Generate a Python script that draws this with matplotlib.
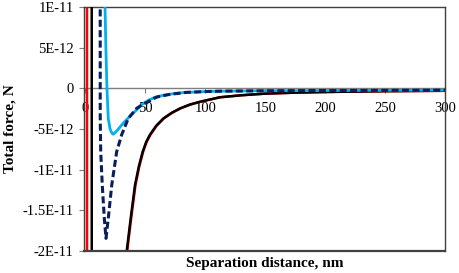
import matplotlib
matplotlib.use("Agg")
import matplotlib.pyplot as plt

# ---- data (force in N, distance in nm) ----
red_x = [1.2, 1.3, 20, 30, 34.8, 38.1, 41.7, 44.9, 48.1, 51.0, 54.2, 59.4, 65.4, 72.4, 79.4, 87.4, 96.0, 112.4, 130.4, 150.4, 175.4, 200.4, 250.4, 300]
red_y = [1e-10, -1e-10, -8e-11, -3e-11, -20e-12, -16e-12, -11.9e-12, -9.6e-12, -7.8e-12, -6.6e-12, -5.7e-12, -4.6e-12, -3.7e-12, -3.0e-12,
         -2.46e-12, -2.0e-12, -1.65e-12, -1.1e-12, -0.85e-12, -0.65e-12, -0.53e-12, -0.45e-12, -0.35e-12, -0.3e-12]

black_x = [5.1, 5.3, 20, 30, 34.4, 37.7, 41.3, 44.5, 47.7, 50.6, 53.8, 59, 65, 72, 79, 87, 95.6, 112, 130, 150, 175, 200, 250, 300]
black_y = [1e-10, -1e-10, -8e-11, -3e-11, -20e-12, -16e-12, -11.9e-12, -9.6e-12, -7.8e-12, -6.6e-12, -5.7e-12, -4.6e-12, -3.7e-12, -3.0e-12,
           -2.46e-12, -2.0e-12, -1.65e-12, -1.1e-12, -0.85e-12, -0.65e-12, -0.53e-12, -0.45e-12, -0.35e-12, -0.3e-12]

navy_x = [12.2, 12.3, 12.7, 14.0, 15.7, 17.1, 19.0, 21.9, 26, 30.2, 35.7, 42.7, 48, 52.4, 56, 60, 70, 84, 100, 112, 150, 200, 250, 300]
navy_y = [30e-12, -3.7e-12, -7.8e-12, -11.9e-12, -16e-12, -18.45e-12, -16e-12, -11.9e-12, -7.8e-12, -5.7e-12, -3.7e-12,
          -2.46e-12, -1.95e-12, -1.65e-12, -1.3e-12, -1.05e-12, -0.75e-12, -0.5e-12, -0.4e-12, -0.35e-12, -0.3e-12,
          -0.27e-12, -0.25e-12, -0.23e-12]

blue_x = [15.8, 16.3, 17.0, 17.9, 19.0, 20.5, 22.0, 23.2, 25, 27.5, 30.2, 34, 38.6, 43, 47, 52, 58, 65, 75, 84, 100, 112, 150, 200, 250, 300]
blue_y = [25e-12, 10e-12, 5e-12, 0.0, -3.7e-12, -5.0e-12, -5.5e-12, -5.65e-12, -5.4e-12, -5.0e-12, -4.5e-12, -3.9e-12,
          -3.2e-12, -2.6e-12, -2.0e-12, -1.5e-12, -1.1e-12, -0.85e-12, -0.62e-12, -0.5e-12, -0.4e-12, -0.35e-12,
          -0.3e-12, -0.27e-12, -0.25e-12, -0.23e-12]

x_ticks = [0, 50, 100, 150, 200, 250, 300]
y_ticks = [1e-11, 5e-12, 0, -5e-12, -1e-11, -1.5e-11, -2e-11]
y_tick_labels = ["1E-11", "5E-12", "0", "-5E-12", "-1E-11", "-1.5E-11", "-2E-11"]

plt.rcParams['font.family'] = ['Liberation Serif', 'DejaVu Serif']

fig = plt.figure(figsize=(4.59, 2.73), dpi=100)
ax = fig.add_axes([84 / 459, 1 - 251 / 273, (445 - 84) / 459, (251 - 7) / 273])

ax.plot(red_x, red_y, color='#FF0000', lw=1.8, solid_joinstyle='round', zorder=2)
ax.plot(black_x, black_y, color='#000000', lw=1.8, solid_joinstyle='round', zorder=3)
ax.plot(blue_x, blue_y, color='#00B0F0', lw=2.0, solid_joinstyle='round', zorder=4)
ax.plot(navy_x, navy_y, color='#0A1E5A', lw=2.2, dashes=(2.3, 1.1), zorder=5)

ax.set_xlim(-1.25, 300)
ax.set_ylim(-2e-11, 1e-11)

frame_c = '#404040'
for s in ['left', 'right', 'top']:
    ax.spines[s].set_color(frame_c)
    ax.spines[s].set_linewidth(1.0)
ax.spines['bottom'].set_position(('data', 0))
ax.spines['bottom'].set_color('#7f7f7f')
ax.spines['bottom'].set_linewidth(1.0)
ax.spines['bottom'].set_zorder(1)
ax.plot([0, 1], [0, 0], transform=ax.transAxes, color=frame_c, lw=1.6, clip_on=False, zorder=6)

ax.set_xticks(x_ticks)
ax.set_xticklabels([str(v) for v in x_ticks])
ax.set_yticks(y_ticks)
ax.set_yticklabels(y_tick_labels)
ax.tick_params(axis='both', labelsize=10.5, length=3.5, width=0.8, color='#7f7f7f', direction='out')
ax.tick_params(axis='x', pad=6)
ax.tick_params(axis='y', pad=4)

fig.text(264.5 / 459, 1 - 263 / 273, 'Separation distance, nm', fontsize=11, fontweight='bold',
         ha='center', va='center')
fig.text(10 / 459, 1 - 129 / 273, 'Total force, N', fontsize=11, fontweight='bold',
         ha='center', va='center', rotation=90)

fig.savefig('out.png', dpi=100)
